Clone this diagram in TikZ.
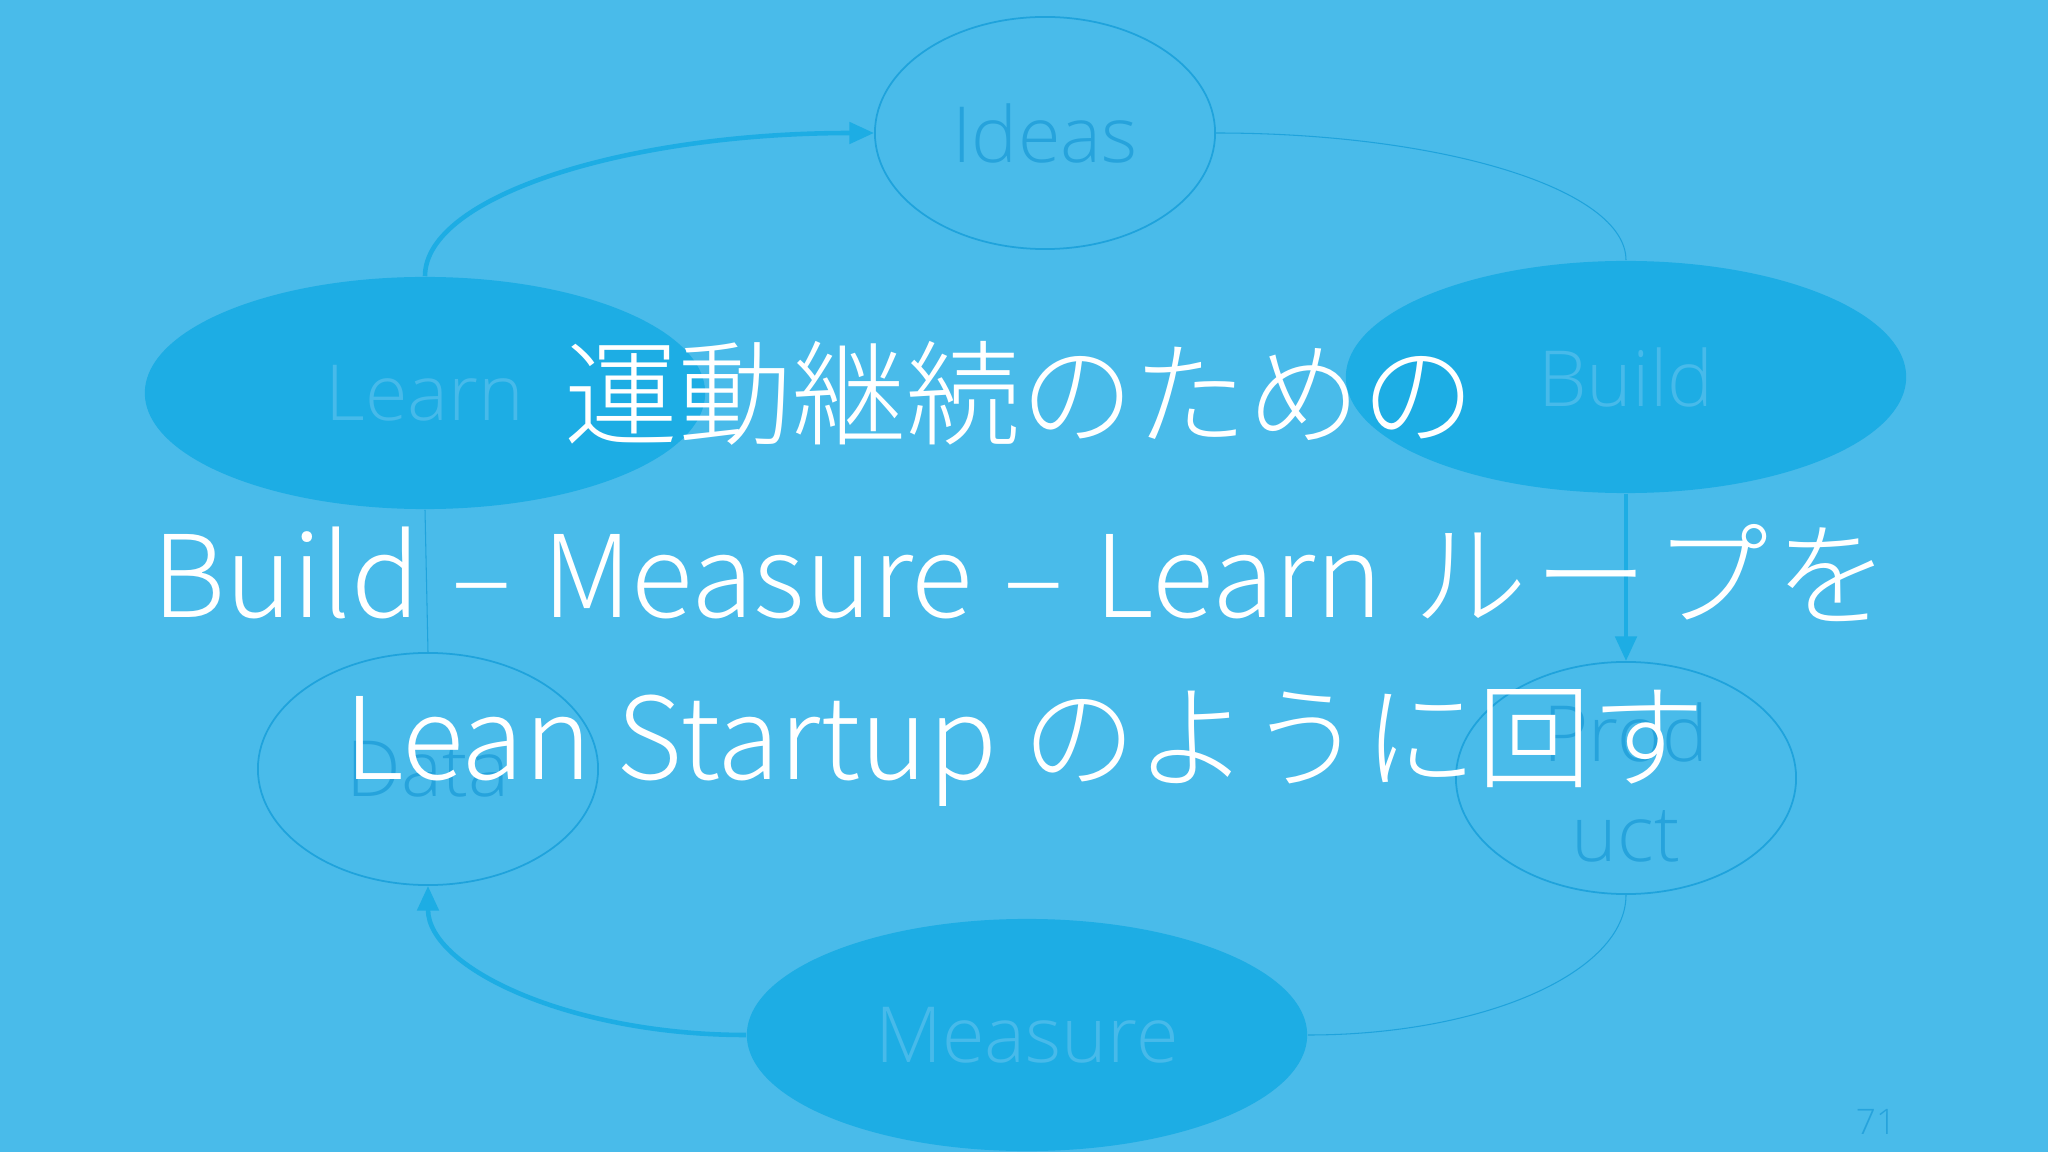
\documentclass[tikz,border=0pt]{standalone}
\usepackage{fontspec}
\usetikzlibrary{shapes.geometric,arrows.meta,calc}
\IfFontExistsTF{Noto Sans CJK JP Light}{\newfontfamily\jpfont{Noto Sans CJK JP Light}}{\newfontfamily\jpfont{Noto Sans CJK JP}}
\IfFontExistsTF{Open Sans Light}{\newfontfamily\lblfont{Open Sans Light}}{\newfontfamily\lblfont{Open Sans}}
\definecolor{bgblue}{HTML}{49BBEA}
\definecolor{fillblue}{HTML}{1DADE4}
\definecolor{strokeblue}{HTML}{1FA3DC}
\definecolor{darktext}{HTML}{26A3DC}
\definecolor{lighttext}{HTML}{47BAEA}
\tikzset{
  filledell/.style={ellipse, fill=fillblue, inner sep=0pt, minimum width=5.6cm, minimum height=2.32cm, font=\lblfont\fontsize{22}{28.5}\selectfont, text=lighttext},
  openell/.style={ellipse, draw=strokeblue, line width=0.5pt, inner sep=0pt, minimum width=3.4cm, minimum height=2.32cm, font=\lblfont\fontsize{22}{28.5}\selectfont, text=darktext, align=center},
  thickcon/.style={draw=fillblue, line width=1.3pt},
  thincon/.style={draw=strokeblue, line width=0.3pt},
  tip/.style={-{Triangle[length=7pt,width=6pt]}},
  maintext/.style={text=white, font=\jpfont\fontsize{32.4}{40}\selectfont, inner sep=0pt}
}
\newcommand{\wsp}{\ \hspace{1.5pt}}
\begin{document}
\begin{tikzpicture}[x=0.01cm,y=-0.01cm]
\fill[bgblue] (0,0) rectangle (2048,1152);
\useasboundingbox (0,0) rectangle (2048,1152);
% nodes
\node[openell] (ideas) at (1045,133) {Ideas};
\node[filledell] (learn) at (425,393) {Learn};
\node[filledell] (build) at (1626,377) {Build};
\node[openell] (product) at (1626,778) {\raisebox{-9pt}[0pt][0pt]{\begin{tabular}{@{}c@{}}Prod\\uct\end{tabular}}};
\node[filledell] (measure) at (1027,1035) {Measure};
\node[openell] (data) at (428,769) {Data};
% connectors (quarter-ellipse style curves)
\draw[thickcon,tip] (learn.north) .. controls ($(learn.north)+(0,-80)$) and ($(ideas.west)+(-248,0)$) .. (ideas.west);
\draw[thincon] (ideas.east) .. controls ($(ideas.east)+(227,0)$) and ($(build.north)+(0,-71)$) .. (build.north);
\draw[thickcon,tip] (build.south) -- (product.north);
\draw[thincon] (product.south) .. controls ($(product.south)+(0,77)$) and ($(measure.east)+(177,0)$) .. (measure.east);
\draw[thickcon,tip] (measure.west) .. controls ($(measure.west)+(-176,0)$) and ($(data.south)+(0,82)$) .. (data.south);
\draw[thincon] (data.north) -- (learn.south);
% page number
\node[text=darktext, font=\lblfont\fontsize{10}{12}\selectfont] (pnum) at (1876,1122) {71};
% overlay text
\node[maintext] (l1) at (1020,393) {運動継続のための};
\node[maintext] (l2) at (1021,573) {Build\wsp–\wsp Measure\wsp–\wsp Learn\wsp ル\kern2pt ー\kern2pt プ\kern2pt を};
\node[maintext] (l3) at (1025,748) {Lean Startup のように回す};
\end{tikzpicture}
\end{document}
